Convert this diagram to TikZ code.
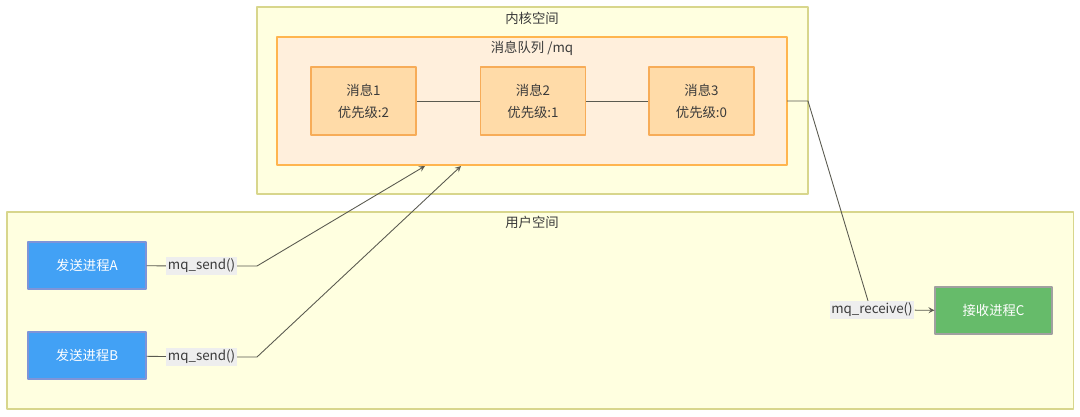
\documentclass[tikz,border=0pt]{standalone}
\usepackage{fontspec}
\setmainfont{Noto Sans CJK SC}
\definecolor{spacefill}{HTML}{FFFFE0}
\definecolor{spaceline}{HTML}{D8D68C}
\definecolor{queuefill}{HTML}{FFEFDC}
\definecolor{queueline}{HTML}{FFB54F}
\definecolor{msgfill}{HTML}{FFDBA8}
\definecolor{msgline}{HTML}{F7AC58}
\definecolor{sendfill}{HTML}{42A1F5}
\definecolor{sendline}{HTML}{7E94D8}
\definecolor{recvfill}{HTML}{66BB6A}
\definecolor{recvline}{HTML}{A0A0A0}
\definecolor{txt}{HTML}{3A3A3A}
\definecolor{wire}{HTML}{5A5A50}
\definecolor{tagfill}{HTML}{EEEEEE}
\begin{document}
\begin{tikzpicture}[x=0.2mm,y=-0.2mm,line join=round,>=stealth]
			\tikzset{every node/.style={font=\fontsize{7.6}{12.5}\selectfont,text=txt},
				space/.style={draw=spaceline,fill=spacefill,line width=0.6pt},
				queue/.style={draw=queueline,fill=queuefill,line width=0.6pt},
				msg/.style={draw=msgline,fill=msgfill,line width=0.6pt,align=center,minimum width=21mm,minimum height=13.6mm},
				proc/.style={line width=0.6pt,text=white,minimum width=23.6mm,minimum height=9.4mm},
				tag/.style={fill=tagfill,inner sep=1pt},
				conn/.style={draw=wire,line width=0.5pt}}
			\useasboundingbox (0,0) rectangle (1080,416);
			\node[space,minimum width=110.2mm,minimum height=37.4mm] (kernel) at (532.5,100.5) {};
			\node (kerneltitle) at (532,18) {内核空间};
			\node[queue,minimum width=102mm,minimum height=25.6mm] (queue) at (532,101) {};
			\node (queuetitle) at (532,48) {消息队列 /mq};
			\foreach \i/\x/\p in {1/363.5/2,2/533/1,3/701.5/0}
			\node[msg] (msg\i) at (\x,101) {消息\i\\优先级:\p};
			\draw[conn] (msg1) -- (msg2);
			\draw[conn] (msg2) -- (msg3);
			\node[space,minimum width=213.2mm,minimum height=39.4mm] (user) at (540,310.5) {};
			\node (usertitle) at (532,222) {用户空间};
			\node[proc,fill=sendfill,draw=sendline] (sendA) at (87,265.5) {发送进程A};
			\node[proc,fill=sendfill,draw=sendline] (sendB) at (87,355.5) {发送进程B};
			\node[proc,fill=recvfill,draw=recvline,minimum width=23.4mm] (recvC) at (993.5,310.5) {接收进程C};
			\node[tag] (sendtagA) at (201.5,266) {mq\_send()};
			\node[tag] (sendtagB) at (201.5,357) {mq\_send()};
			\node[tag] (recvtag) at (872,310) {mq\_receive()};
			\coordinate (bendA) at (257,266);
			\coordinate (bendB) at (257,357);
			\coordinate (tipA) at (425,166);
			\coordinate (tipB) at (461,166);
			\coordinate (qout) at (787,101);
			\coordinate (kout) at (808,101);
			\draw[conn] (sendA) -- (sendtagA);
			\draw[conn,->] (sendtagA) -- (bendA) -- (tipA);
			\draw[conn] (sendB) -- (sendtagB);
			\draw[conn,->] (sendtagB) -- (bendB) -- (tipB);
			\draw[conn] (qout) -- (kout) -- ([xshift=-0.8mm]recvtag.north);
			\draw[conn,->] (recvtag) -- (recvC);
		\end{tikzpicture}
\end{document}
